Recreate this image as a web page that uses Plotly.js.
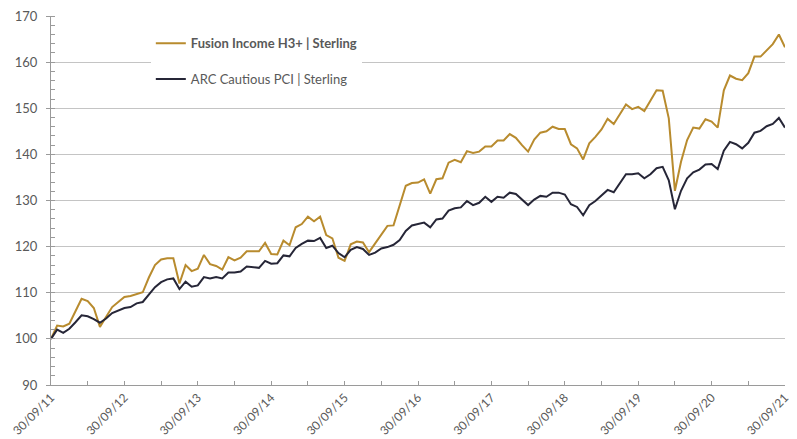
<!DOCTYPE html>
<html>
<head>
<meta charset="utf-8">
<script src="https://cdn.plot.ly/plotly-3.0.1.min.js"></script>
<style>html,body{margin:0;padding:0;background:#fff;}#chart{width:797px;height:439px;}</style>
</head>
<body>
<div id="chart"></div>
<script>
// Month index 0 = 30/09/11 ... 120 = 30/09/21
var tickLabels = ["30/09/11","30/09/12","30/09/13","30/09/14","30/09/15","30/09/16","30/09/17","30/09/18","30/09/19","30/09/20","30/09/21"];
var tickPositions = [0,12,24,36,48,60,72,84,96,108,120];

var fusionName = "Fusion Income H3+ | Sterling";
var arcName = "ARC Cautious PCI | Sterling";

var fusionValues = [
100,102.9,102.7,103.3,106,108.7,108.2,106.7,102.6,104.8,106.9,108,
109.1,109.3,109.7,110.1,113.3,116,117.2,117.5,117.5,112,116,114.7,
115.2,118.2,116.2,115.8,115,117.7,117,117.6,119,119,119,120.8,
118.4,118.3,121.3,120.3,124.2,124.9,126.5,125.5,126.5,122.5,121.8,117.6,
116.9,120.5,121.1,120.9,118.8,120.7,122.6,124.5,124.6,128.7,133.2,133.8,
133.9,134.6,131.5,134.6,134.8,138.2,138.8,138.3,140.7,140.3,140.6,141.7,
141.7,143,143,144.4,143.6,142,140.6,143.2,144.7,145,146,145.5,
145.5,142.2,141.3,138.9,142.4,143.8,145.4,147.7,146.6,148.7,150.8,149.8,
150.3,149.4,151.8,153.9,153.8,147.8,132.1,138.4,143.1,145.8,145.6,147.6,
147.1,145.8,153.9,157.1,156.4,156.1,157.6,161.2,161.2,162.5,163.9,166,
163.2
];

var arcValues = [
100,102,101.3,102.2,103.6,105.1,104.9,104.3,103.5,104.4,105.6,106.2,
106.7,106.9,107.7,108,109.5,111.2,112.3,112.9,113.1,110.8,112.4,111.3,
111.6,113.4,113.1,113.4,113.1,114.4,114.4,114.6,115.7,115.5,115.4,116.9,
116.3,116.4,118.1,117.9,119.7,120.6,121.3,121.2,121.9,119.7,120.2,118.6,
117.7,119.3,119.9,119.5,118.2,118.7,119.6,119.9,120.4,121.4,123.4,124.6,
124.9,125.2,124.2,125.9,126.1,127.8,128.3,128.5,129.9,129,129.5,130.8,
129.7,130.8,130.6,131.7,131.4,130.1,129,130.2,131,130.8,131.7,131.7,
131.3,129.2,128.6,126.8,129,129.9,131,132.3,131.8,133.7,135.7,135.7,
135.9,134.8,135.7,137,137.3,134.4,128.1,132.1,134.8,136.1,136.7,137.8,
137.9,136.8,140.8,142.7,142.2,141.3,142.5,144.7,145.1,146.1,146.6,147.9,
145.8
];

var monthIndex = fusionValues.map(function(_, i){ return i; });

var gold = "#B88B2E";
var navy = "#262637";
var textGray = "#595959";
var axisGray = "#9a9a9a";
var gridGray = "#c4c4c4";

var traces = [
  {x: monthIndex, y: fusionValues, type: "scatter", mode: "lines", name: "<b>" + fusionName + "</b>",
   line: {color: gold, width: 2}, legendgroup: "a", hoverinfo: "skip"},
  {x: monthIndex, y: arcValues, type: "scatter", mode: "lines", name: arcName,
   line: {color: navy, width: 2}, legendgroup: "b", hoverinfo: "skip"}
];

var layout = {
  width: 797, height: 439,
  margin: {l: 51, r: 12, t: 16, b: 54},
  paper_bgcolor: "#ffffff", plot_bgcolor: "#ffffff",
  font: {family: "Lato, 'Open Sans', sans-serif", size: 12, color: textGray},
  showlegend: true,
  legend: {
    x: 0.136, xanchor: "left", y: 0.967, yanchor: "top",
    bgcolor: "#ffffff", borderwidth: 0,
    font: {family: "Lato, sans-serif", size: 13, color: textGray},
    tracegroupgap: 16
  },
  xaxis: {
    range: [0, 120], fixedrange: true,
    tickmode: "array", tickvals: tickPositions, ticktext: tickLabels,
    tickangle: -45, ticks: "inside", ticklen: 4, tickcolor: axisGray, tickwidth: 1,
    showline: true, linecolor: axisGray, linewidth: 1,
    showgrid: false, zeroline: false,
    minor: {tickmode: "linear", tick0: 6, dtick: 12, ticks: "inside", ticklen: 4, tickcolor: axisGray, showgrid: false},
    tickfont: {family: "Lato, sans-serif", size: 12, color: textGray}
  },
  yaxis: {
    range: [90, 170], fixedrange: true,
    tickmode: "linear", tick0: 90, dtick: 10,
    ticks: "outside", ticklen: 4, tickcolor: axisGray, tickwidth: 1,
    showline: true, linecolor: axisGray, linewidth: 1,
    showgrid: true, gridcolor: gridGray, gridwidth: 1, zeroline: false,
    minor: {tickmode: "linear", tick0: 90, dtick: 2, ticks: "inside", ticklen: 4, tickcolor: axisGray, showgrid: false},
    ticklabelstandoff: 6,
    tickfont: {family: "Lato, sans-serif", size: 13, color: textGray}
  },
  xaxis2: {
    overlaying: "x", anchor: "y", range: [0, 120], fixedrange: true,
    tickmode: "array", tickvals: tickPositions, ticks: "outside", ticklen: 4, tickcolor: axisGray,
    showticklabels: false, showgrid: false, zeroline: false, showline: false, side: "bottom"
  },
  yaxis2: {
    overlaying: "y", anchor: "x", range: [90, 170], fixedrange: true,
    tickmode: "linear", tick0: 90, dtick: 10, ticks: "inside", ticklen: 4, tickcolor: axisGray,
    showticklabels: false, showgrid: false, zeroline: false, showline: false, side: "left"
  }
};

Plotly.newPlot("chart", traces, layout, {staticPlot: true, displayModeBar: false});
</script>
</body>
</html>
